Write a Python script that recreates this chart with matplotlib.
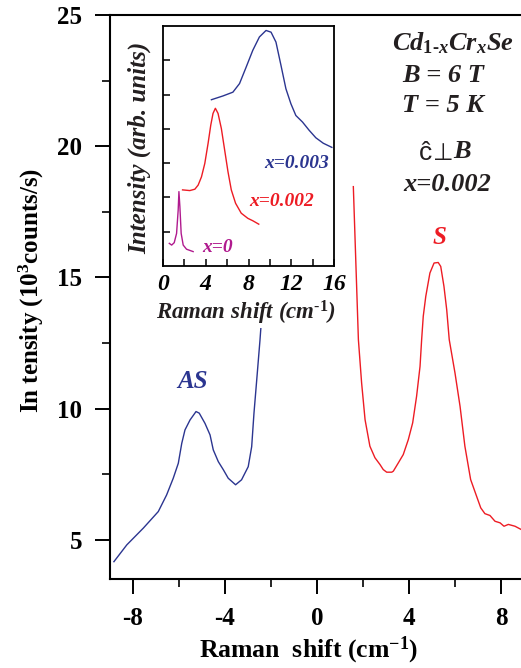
import matplotlib
matplotlib.use("Agg")
import matplotlib.pyplot as plt
from matplotlib.ticker import MultipleLocator, FixedLocator

# ---------------- data ----------------
# main panel: anti-Stokes (blue) and Stokes (red) branches
as_x = [-8.83, -8.27, -7.55, -6.90, -6.54, -6.25, -6.03, -5.88, -5.74, -5.52, -5.26, -5.12,
        -4.87, -4.65, -4.51, -4.29, -4.07, -3.86, -3.54, -3.28, -2.99, -2.84, -2.74,
        -2.62, -2.48, -2.43]
as_y = [4.17, 4.81, 5.45, 6.08, 6.71, 7.35, 7.92, 8.68, 9.19, 9.57, 9.89, 9.83,
        9.44, 9.00, 8.43, 7.98, 7.67, 7.35, 7.10, 7.29, 7.79, 8.55, 9.83,
        11.10, 12.6, 13.2]

s_x = [1.58, 1.80, 1.94, 2.09, 2.30, 2.52, 2.74, 2.88, 3.03, 3.25, 3.32, 3.54, 3.75,
       3.97, 4.16, 4.33, 4.48, 4.55, 4.62, 4.73, 4.91, 5.09, 5.27, 5.38, 5.52, 5.64,
       5.75, 6.0, 6.22, 6.43, 6.68, 6.94, 7.12, 7.30, 7.52, 7.74, 7.96, 8.13, 8.32,
       8.61, 8.87]
s_y = [18.46, 12.63, 10.98, 9.58, 8.57, 8.13, 7.87, 7.68, 7.58, 7.58, 7.62, 7.94, 8.25,
       8.82, 9.46, 10.47, 11.61, 12.63, 13.52, 14.28, 15.17, 15.55, 15.57, 15.42, 14.66,
       13.77, 12.63, 11.36, 10.09, 8.57, 7.3, 6.66, 6.22, 6.0, 5.93, 5.71, 5.65, 5.52,
       5.59, 5.52, 5.40]

# inset: Stokes line for three compositions (arb. units)
x0_x = [0.59, 0.81, 1.05, 1.27, 1.42, 1.49, 1.58, 1.70, 1.89, 2.20, 2.82]
x0_y = [0.66, 0.61, 0.68, 0.95, 1.63, 2.17, 1.73, 0.95, 0.61, 0.49, 0.42]

x2_x = [1.83, 2.51, 2.98, 3.29, 3.60, 3.91, 4.22, 4.47, 4.68, 4.90, 5.15, 5.46, 5.77,
        6.08, 6.39, 6.79, 7.32, 7.94, 8.40, 8.96]
x2_y = [2.22, 2.20, 2.24, 2.36, 2.60, 2.99, 3.58, 4.11, 4.45, 4.60, 4.45, 4.01, 3.38,
        2.75, 2.22, 1.83, 1.54, 1.39, 1.32, 1.22]

x3_x = [4.53, 5.61, 6.54, 7.16, 7.78, 8.40, 9.02, 9.64, 10.11, 10.57, 11.04, 11.5, 11.97,
        12.43, 13.05, 13.67, 14.3, 15.0, 15.8]
x3_y = [4.85, 4.96, 5.07, 5.32, 5.80, 6.29, 6.68, 6.87, 6.82, 6.53, 5.85, 5.17, 4.73,
        4.39, 4.20, 3.96, 3.74, 3.58, 3.46]

main_xticks = [-8, -4, 0, 4, 8]
main_yticks = [5, 10, 15, 20, 25]
inset_xticks = [0, 2, 4, 6, 8, 10, 12, 14, 16]
inset_xticklabels = ["0", "", "4", "", "8", "", "12", "", "16"]

# ---------------- style ----------------
BLUE = "#2b3590"
RED = "#ed1c24"
MAG = "#b01a8e"
SERIF = "Liberation Serif"
plt.rcParams["mathtext.fontset"] = "custom"
plt.rcParams["mathtext.rm"] = "Liberation Serif:bold"
plt.rcParams["mathtext.bf"] = "Liberation Serif:bold"
plt.rcParams["mathtext.it"] = "Liberation Serif:bold:italic"

W, H = 521, 668
fig = plt.figure(figsize=(W / 100, H / 100), dpi=100)


def fx(px):
    return px / W


def fy(py):
    return 1 - py / H


ax = fig.add_axes([fx(110), fy(579), fx(521) - fx(110), fy(15) - fy(579)])
ax.plot(as_x, as_y, color=BLUE, lw=1.0)
ax.plot(s_x, s_y, color=RED, lw=1.0)
ax.set_xlim(-9.0, 8.87)
ax.set_ylim(3.51, 25)
ax.spines["right"].set_visible(False)
for s in ["left", "top", "bottom"]:
    ax.spines[s].set_linewidth(1.5)
ax.set_xticks(main_xticks)
ax.set_yticks(main_yticks)
ax.xaxis.set_minor_locator(MultipleLocator(2))
ax.yaxis.set_minor_locator(MultipleLocator(2.5))
ax.tick_params(which="major", direction="out", length=11, width=1.4, pad=9)
ax.tick_params(which="minor", direction="out", length=6, width=1.2)
ax.tick_params(axis="x", which="both", top=False)
ax.set_xticklabels([str(v) for v in main_xticks])
ax.set_yticklabels([str(v) for v in main_yticks])
for lab in ax.get_xticklabels() + ax.get_yticklabels():
    lab.set_fontfamily(SERIF)
    lab.set_fontweight("bold")
    lab.set_fontsize(18)

fig.text(fx(31), fy(290), r"In tensity (10$^{\mathbf{3}}$counts/s)", rotation=90,
         ha="center", va="center", fontsize=18, fontweight="bold", family=SERIF)
fig.text(fx(308), fy(650), r"Raman  shift (cm$^{\mathbf{-1}}$)", ha="center", va="center",
         fontsize=18.5, fontweight="bold", family=SERIF)

# annotations
ann = dict(family=SERIF, fontweight="bold", fontstyle="italic", fontsize=19,
           ha="center", va="center", color="#231f20")
fig.text(fx(453), fy(43), r"Cd$_{1\text{-}x}$Cr$_x$Se", **ann)
fig.text(fx(443), fy(75), "B = 6 T", **ann)
fig.text(fx(443), fy(105), "T = 5 K", **ann)
fig.text(fx(425), fy(153), "ĉ", family="Liberation Sans", fontsize=19, ha="center",
         va="center", color="#231f20")
fig.text(fx(443), fy(153), "⊥", family="DejaVu Sans", fontsize=17, ha="center",
         va="center", color="#231f20")
fig.text(fx(462), fy(152), "B", **ann)
fig.text(fx(447), fy(185), "x=0.002", **ann)
fig.text(fx(439), fy(238), "S", family=SERIF, fontweight="bold", fontstyle="italic",
         fontsize=18, ha="center", va="center", color=RED)
fig.text(fx(193), fy(382), "AS", family=SERIF, fontweight="bold", fontstyle="italic",
         fontsize=18, ha="center", va="center", color=BLUE)

# ---------------- inset ----------------
ins = fig.add_axes([fx(163), fy(266), fx(334) - fx(163), fy(26) - fy(266)])
ins.plot(x0_x, x0_y, color=MAG, lw=1.0)
ins.plot(x2_x, x2_y, color=RED, lw=1.0)
ins.plot(x3_x, x3_y, color=BLUE, lw=1.0)
ins.set_xlim(0, 16)
ins.set_ylim(0, 7)
for s in ins.spines.values():
    s.set_linewidth(1.3)
ins.xaxis.set_major_locator(FixedLocator(inset_xticks))
ins.set_xticklabels(inset_xticklabels)
ins.set_yticks([1, 2, 3, 4, 5, 6])
ins.set_yticklabels([])
ins.tick_params(direction="in", length=5, width=1.1, pad=6)
for lab in ins.get_xticklabels():
    lab.set_fontfamily(SERIF)
    lab.set_fontweight("bold")
    lab.set_fontstyle("italic")
    lab.set_fontsize(17)
fig.text(fx(140), fy(148), "Intensity (arb. units)", rotation=90, ha="center", va="center",
         family=SERIF, fontweight="bold", fontstyle="italic", fontsize=18, color="#231f20")
fig.text(fx(246), fy(313), r"Raman shift (cm$^{\text{-}1}$)", ha="center", va="center",
         family=SERIF, fontweight="bold", fontstyle="italic", fontsize=16.5, color="#231f20",
         bbox=dict(facecolor="white", edgecolor="none", pad=1))
ilab = dict(family=SERIF, fontweight="bold", fontstyle="italic", fontsize=14,
            ha="center", va="center")
fig.text(fx(297), fy(163), "x=0.003", color=BLUE, **ilab)
fig.text(fx(282), fy(202), "x=0.002", color=RED, **ilab)
fig.text(fx(218), fy(248), "x=0", color=MAG, **ilab)

fig.savefig("out.png", dpi=100)
